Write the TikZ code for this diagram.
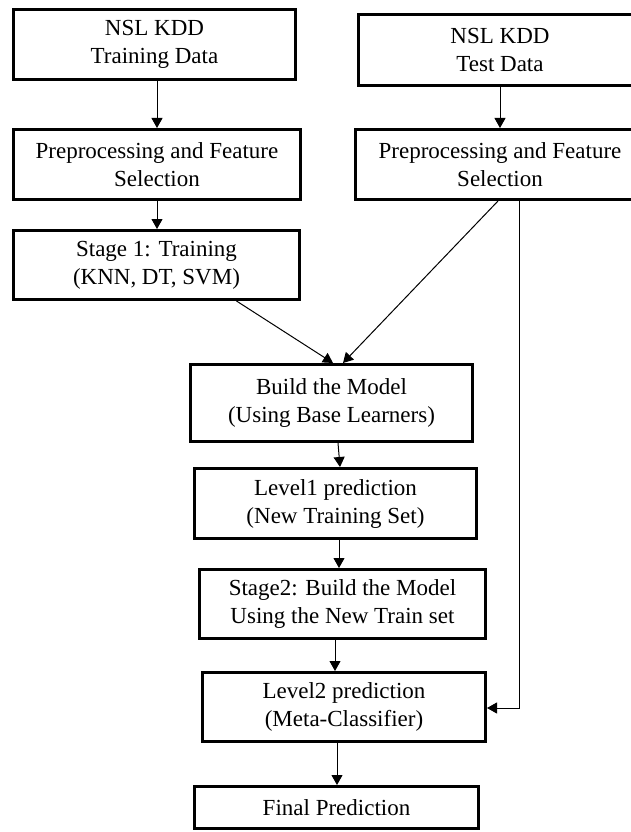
\documentclass[tikz,border=0pt]{standalone}
\usepackage{fontspec}
\setmainfont{Liberation Serif}
\usetikzlibrary{arrows.meta}

\begin{document}
\begin{tikzpicture}[x=1pt, y=-1pt,
  box/.style={draw, line width=3pt, align=center, inner sep=0pt,
    font=\fontsize{23}{28}\selectfont},
  arr/.style={line width=1pt, -{Triangle[width=11pt,length=10pt]}},
  link/.style={line width=1pt}]
\useasboundingbox (0,0) rectangle (630,832);

% Training branch
\node[box, minimum width=282pt, minimum height=70pt] (train) at (154.5,44.5) {NSL KDD\\Training Data};
\node[box, minimum width=287pt, minimum height=70pt] (preL) at (157,164.5) {Preprocessing and Feature\\Selection};
\node[box, minimum width=286pt, minimum height=69pt] (stageone) at (156.5,265) {Stage 1: Training\\(KNN, DT, SVM)};

% Test branch
\node[box, minimum width=283pt, minimum height=71pt] (test) at (500,50) {NSL KDD\\Test Data};
\node[box, minimum width=289pt, minimum height=70pt] (preR) at (500,164.5) {Preprocessing and Feature\\Selection};

% Stacked model
\node[box, minimum width=282pt, minimum height=77pt] (build) at (331.5,403) {Build the Model\\(Using Base Learners)};
\node[box, minimum width=282pt, minimum height=70pt] (levelone) at (335.5,503.5) {Level1 prediction\\(New Training Set)};
\node[box, minimum width=286pt, minimum height=69pt] (stagetwo) at (342.5,604) {Stage2: Build the Model\\Using the New Train set};
\node[box, minimum width=283pt, minimum height=69pt] (leveltwo) at (344,707) {Level2 prediction\\(Meta-Classifier)};
\node[box, minimum width=284pt, minimum height=42pt] (final) at (336.5,807.5) {Final Prediction};

% Arrows
\draw[arr] (train.south -| 157,0) -- (preL.north);
\draw[arr] (preL.south) -- (stageone.north -| preL.south);
\draw[arr] (test.south) -- (preR.north);
\draw[arr] ([xshift=80pt]stageone.south) -- ([xshift=1.5pt]build.north);
\draw[arr] ([xshift=-2pt]preR.south) -- ([xshift=11.5pt]build.north);
\draw[arr] ([xshift=6.5pt]build.south) -- ([xshift=4.5pt]levelone.north);
\draw[arr] ([xshift=3.5pt]levelone.south) -- ([xshift=-3.5pt]stagetwo.north);
\draw[arr] ([xshift=-7.5pt]stagetwo.south) -- ([xshift=-9pt]leveltwo.north);
\draw[arr] ([xshift=-7pt]leveltwo.south) -- ([xshift=0.5pt]final.north);
\draw[arr] ([xshift=19pt]preR.south) |- ([yshift=-1pt]leveltwo.east);
\end{tikzpicture}
\end{document}
